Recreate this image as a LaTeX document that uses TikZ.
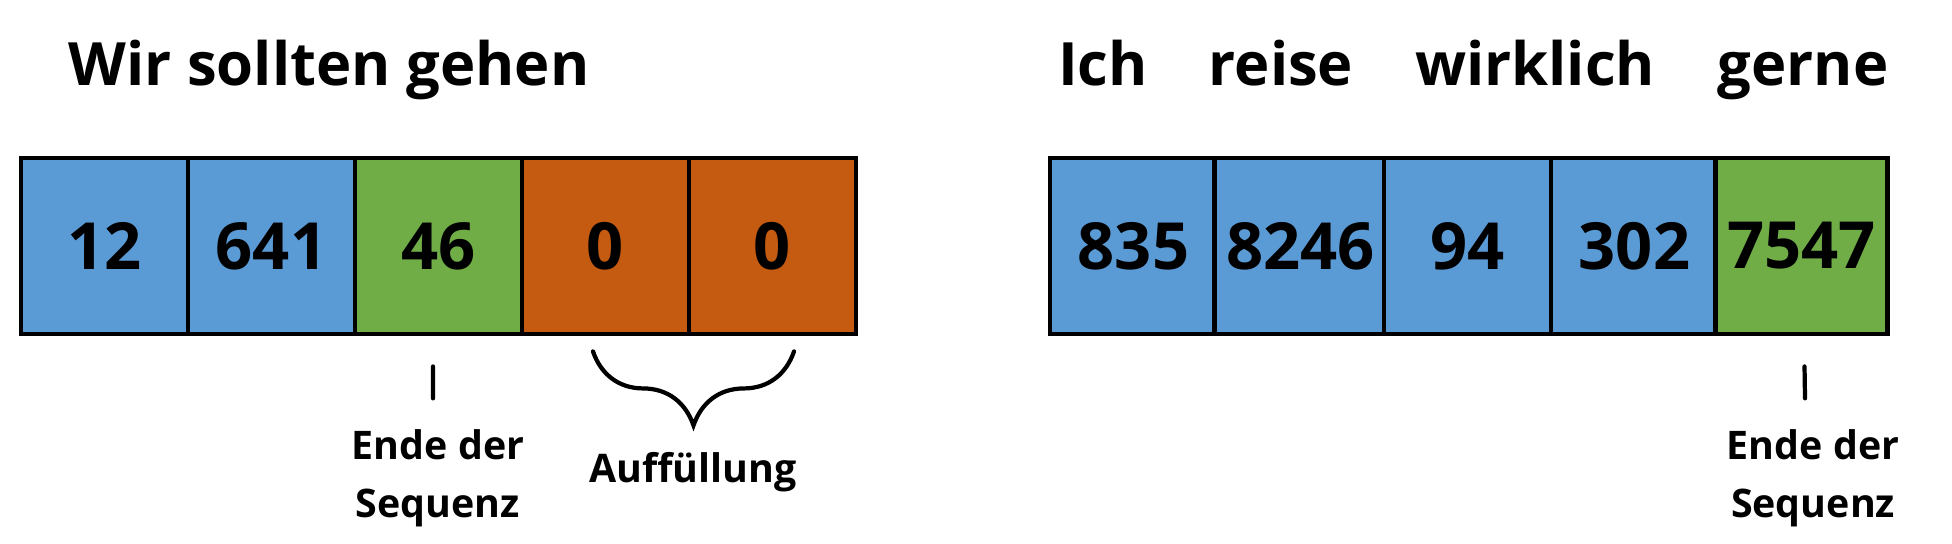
\documentclass[tikz,border=0pt]{standalone}
\usepackage{fontspec}
\setmainfont{Open Sans}
\usetikzlibrary{decorations.pathreplacing}
\definecolor{tokblue}{HTML}{5B9BD5}
\definecolor{tokgreen}{HTML}{70AD47}
\definecolor{tokorange}{HTML}{C55A11}
\begin{document}
\begin{tikzpicture}[node distance=1.67cm]
    % Define styles for tokens, words and labels
    \tikzstyle{token} = [rectangle, minimum width=1.67cm, minimum height=1.76cm, text centered, draw=black, line width=1.4pt, font=\fontsize{18.5}{20}\selectfont\bfseries]
    \tikzstyle{wordtok} = [token, fill=tokblue]
    \tikzstyle{endtok} = [token, fill=tokgreen]
    \tikzstyle{padtok} = [token, fill=tokorange]
    \tikzstyle{word} = [anchor=base, inner sep=0pt, font=\fontsize{17}{20}\selectfont\bfseries]
    \tikzstyle{note} = [anchor=base, align=center, inner sep=2pt, font=\fontsize{11.2}{16.5}\selectfont\bfseries]
    % Tick and brace
    \tikzstyle{tick} = [line width=1.2pt, line cap=round]
    \tikzset{padBrace/.style={decorate, decoration={brace, mirror, amplitude=0.74cm},
        line width=1.2pt, line cap=round
    }}
    \useasboundingbox (0,0) rectangle (19.52,5.44);
    % Left sequence
    \node (titleA) [word, anchor=base west] at (0.68,4.58) {Wir sollten gehen};
    \node (a1) [wordtok] at (1.045,2.98) {12};
    \node (a2) [wordtok, right of=a1] {641};
    \node (a3) [endtok, right of=a2] {46};
    \node (a4) [padtok, right of=a3] {0};
    \node (a5) [padtok, right of=a4] {0};
    \node (endA) [note] at (4.38,0.26) {Ende der\\Sequenz};
    \node (padA) [note] at (6.93,0.61) {Auffüllung};
    % Right sequence
    \node (w1) [word] at (11.03,4.58) {Ich};
    \node (w2) [word] at (12.81,4.58) {reise};
    \node (w3) [word] at (15.35,4.58) {wirklich};
    \node (w4) [word] at (18.03,4.58) {gerne};
    \node (b1) [wordtok] at (11.335,2.98) {835};
    \node (b2) [wordtok, right of=b1] {8246};
    \node (b3) [wordtok, right of=b2] {94};
    \node (b4) [wordtok, right of=b3] {302};
    \node (b5) [endtok, right of=b4] {7547};
    \node (endB) [note] at (18.13,0.26) {Ende der\\Sequenz};
    % Markers
    \draw [tick] ([xshift=-0.055cm, yshift=-0.3cm]a3.south) -- ([xshift=-0.05cm, yshift=0.24cm]endA.north);
    \draw [padBrace] ([xshift=-0.125cm, yshift=-0.15cm]a4.south) -- ([xshift=0.215cm, yshift=-0.15cm]a5.south);
    \draw [tick] ([xshift=0.03cm, yshift=-0.3cm]b5.south) -- ([xshift=-0.08cm, yshift=0.24cm]endB.north);
\end{tikzpicture}
\end{document}
